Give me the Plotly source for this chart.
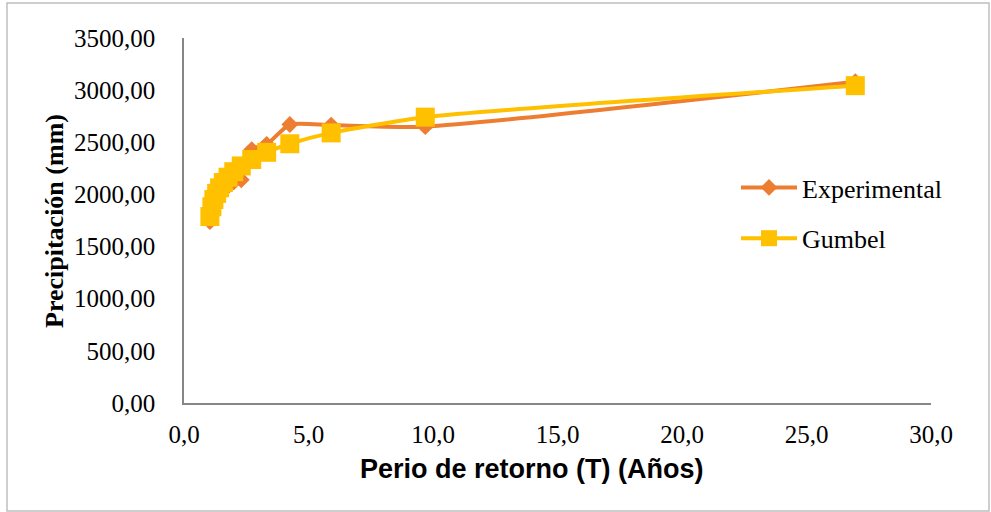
import plotly.graph_objects as go

# ── Data ─────────────────────────────────────────────────────────────────────
periodo = [26.96, 9.69, 5.91, 4.25, 3.32, 2.72, 2.30, 2.00, 1.77, 1.58, 1.43, 1.31, 1.20, 1.12, 1.04]
experimental = [3080, 2650, 2665, 2670, 2480, 2430, 2140, 2120, 2080, 2040, 2000, 1950, 1890, 1830, 1740]
gumbel = [3043, 2741, 2590, 2486, 2404, 2335, 2273, 2218, 2165, 2114, 2063, 2010, 1951, 1882, 1788]

x_ticks = [0, 5, 10, 15, 20, 25, 30]
y_ticks = [0, 500, 1000, 1500, 2000, 2500, 3000, 3500]

SERIF = "Liberation Serif, Times New Roman, serif"
SANS = "Liberation Sans, Arial, sans-serif"

# plot area in pixels: x 184..931, y 38..403
L, R, T, B = 184, 60, 38, 109
W, H = 991, 512
PW, PH = W - L - R, H - T - B


def px_x(p):
    return (p - L) / PW


def px_y(p):
    return (H - B - p) / PH


fig = go.Figure()

fig.add_trace(go.Scatter(
    x=periodo, y=experimental,
    mode="lines+markers",
    name="Experimental",
    legendgroup="a",
    line=dict(color="#ED7D31", width=4, shape="spline", smoothing=0.6),
    marker=dict(symbol="diamond", size=13, color="#ED7D31"),
))

fig.add_trace(go.Scatter(
    x=periodo, y=gumbel,
    mode="lines+markers",
    name="Gumbel",
    legendgroup="b",
    line=dict(color="#FFC000", width=4, shape="spline", smoothing=0.6),
    marker=dict(symbol="square", size=19, color="#FFC000"),
))

fig.update_layout(
    width=W, height=H,
    margin=dict(l=L, r=R, t=T, b=B),
    paper_bgcolor="white",
    plot_bgcolor="white",
    separators=",.",
    font=dict(family=SERIF, size=25, color="black"),
    legend=dict(
        x=px_x(736), y=px_y(164), xanchor="left", yanchor="top",
        bgcolor="rgba(0,0,0,0)",
        font=dict(family=SERIF, size=26, color="black"),
        tracegroupgap=14,
        itemwidth=56,
        traceorder="grouped",
    ),
)

fig.update_xaxes(
    range=[0, 30], tickvals=x_ticks, tickformat=".1f",
    showgrid=False, zeroline=False,
    showline=True, linecolor="#868686", linewidth=1.5,
    ticks="", ticklabelstandoff=8,
    tickfont=dict(family=SERIF, size=25),
)
fig.update_yaxes(
    range=[0, 3500], tickvals=y_ticks, tickformat=".2f",
    showgrid=False, zeroline=False,
    showline=True, linecolor="#868686", linewidth=1.5,
    ticks="", ticklabelstandoff=22,
    tickfont=dict(family=SERIF, size=25),
)

# axis titles
fig.add_annotation(
    xref="paper", yref="paper", x=px_x(532), y=px_y(469),
    xanchor="center", yanchor="middle",
    text="<b>Perio de retorno (T) (Años)</b>", showarrow=False,
    font=dict(family=SANS, size=27, color="black"),
)
fig.add_annotation(
    xref="paper", yref="paper", x=px_x(54), y=px_y(221),
    xanchor="center", yanchor="middle",
    text="<b>Precipitación (mm)</b>", showarrow=False, textangle=-90,
    font=dict(family=SERIF, size=26, color="black"),
)

# outer chart border
fig.add_shape(
    type="rect", xref="paper", yref="paper",
    x0=px_x(7), x1=px_x(989), y0=px_y(511), y1=px_y(3),
    line=dict(color="#BFBFBF", width=1.5),
)

fig.write_html(
    "out.html",
    config={"displayModeBar": False},
    post_script="document.body.style.margin='0';",
)
